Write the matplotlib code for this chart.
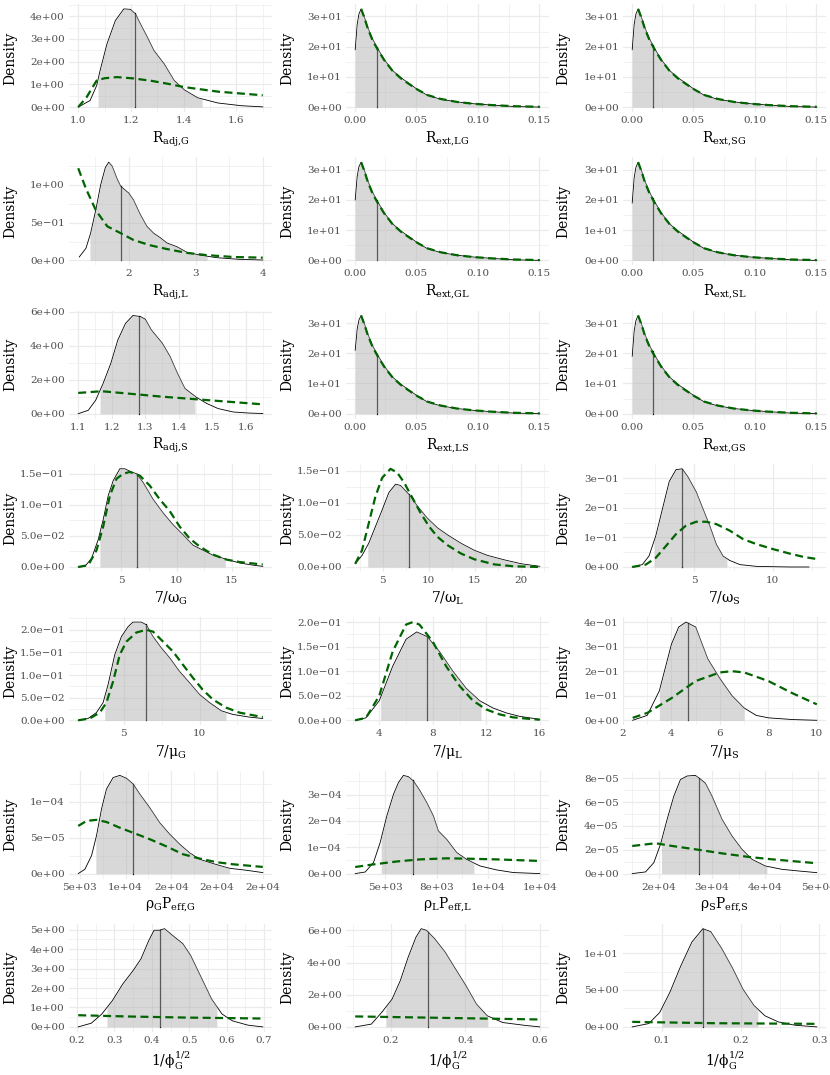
import numpy as np
import matplotlib
matplotlib.use("Agg")
import matplotlib.pyplot as plt
from matplotlib.ticker import AutoMinorLocator

plt.rcParams["font.family"] = ["DejaVu Serif"]
plt.rcParams["mathtext.fontset"] = "dejavuserif"

# =============================
# Data
# =============================

# R_adj,G
radj_g_x = [1.00, 1.045, 1.07, 1.083, 1.109, 1.141, 1.173, 1.198, 1.217, 1.236, 1.262, 1.287, 1.326, 1.364, 1.402, 1.453, 1.53, 1.619, 1.70]
radj_g_y = [0.0, 0.29, 0.95, 1.61, 2.78, 3.81, 4.32, 4.30, 4.10, 3.66, 3.08, 2.49, 1.90, 1.17, 0.76, 0.41, 0.18, 0.06, 0.01]
radj_g_ci = [1.075, 1.47]
radj_g_med = 1.215
radj_g_px = [1.0, 1.032, 1.07, 1.10, 1.147, 1.211, 1.28, 1.338, 1.402, 1.53, 1.70]
radj_g_py = [0.0, 0.44, 1.17, 1.27, 1.32, 1.26, 1.15, 1.03, 0.88, 0.68, 0.52]

# R_ext (all six look alike)
rext_x = [0.0005, 0.0021, 0.0035, 0.0053, 0.0080, 0.0107, 0.0147, 0.0188, 0.0241, 0.0308, 0.0376, 0.0443, 0.0510, 0.0590, 0.0698, 0.0832, 0.0966, 0.1100, 0.1288, 0.1503]
rext_lg_y = [19.0, 27.4, 30.8, 32.5, 29.7, 26.3, 22.4, 19.3, 15.7, 12.1, 9.7, 7.8, 5.8, 3.9, 2.6, 1.7, 1.1, 0.7, 0.2, 0.0]
rext_sg_y = [19.0, 27.4, 30.8, 32.5, 29.7, 26.3, 22.4, 19.3, 15.7, 12.1, 9.7, 7.8, 5.8, 3.9, 2.6, 1.7, 1.1, 0.7, 0.2, 0.0]
rext_gl_y = [20.0, 27.8, 31.0, 32.5, 29.7, 26.3, 22.4, 19.3, 15.7, 12.1, 9.7, 7.8, 5.8, 3.9, 2.6, 1.7, 1.1, 0.7, 0.2, 0.0]
rext_sl_y = [19.0, 27.4, 30.8, 32.5, 29.7, 26.3, 22.4, 19.3, 15.7, 12.1, 9.7, 7.8, 5.8, 3.9, 2.6, 1.7, 1.1, 0.7, 0.2, 0.0]
rext_ls_y = [21.0, 28.0, 31.0, 32.5, 29.7, 26.3, 22.4, 19.3, 15.7, 12.1, 9.7, 7.8, 5.8, 3.9, 2.6, 1.7, 1.1, 0.7, 0.2, 0.0]
rext_gs_y = [19.0, 27.4, 30.8, 32.5, 29.7, 26.3, 22.4, 19.3, 15.7, 12.1, 9.7, 7.8, 5.8, 3.9, 2.6, 1.7, 1.1, 0.7, 0.2, 0.0]
rext_ci = [0.0005, 0.1503]
rext_med = [0.018, 0.017, 0.018, 0.017, 0.018, 0.017]  # LG, SG, GL, SL, LS, GS
rext_px = [0.0053, 0.0080, 0.0107, 0.0147, 0.0188, 0.0241, 0.0308, 0.0376, 0.0443, 0.0510, 0.0590, 0.0698, 0.0832, 0.0966, 0.1100, 0.1288, 0.1503]
rext_py = [32.5, 29.5, 26.0, 22.0, 19.0, 15.5, 12.0, 9.5, 7.6, 5.8, 4.0, 2.7, 1.7, 1.1, 0.7, 0.3, 0.1]

# R_adj,L
radj_l_x = [1.26, 1.36, 1.43, 1.51, 1.58, 1.65, 1.70, 1.75, 1.83, 1.88, 2.0, 2.07, 2.17, 2.27, 2.37, 2.47, 2.57, 2.72, 2.86, 3.06, 3.31, 3.65, 4.0]
radj_l_y = [0.045, 0.16, 0.36, 0.68, 1.0, 1.23, 1.30, 1.25, 1.07, 0.98, 0.89, 0.80, 0.61, 0.45, 0.36, 0.30, 0.23, 0.18, 0.11, 0.07, 0.036, 0.014, 0.005]
radj_l_ci = [1.42, 3.17]
radj_l_med = 1.88
radj_l_px = [1.245, 1.36, 1.51, 1.68, 1.88, 2.07, 2.32, 2.57, 2.86, 3.16, 3.56, 4.0]
radj_l_py = [1.22, 0.95, 0.66, 0.45, 0.36, 0.27, 0.20, 0.15, 0.10, 0.07, 0.045, 0.036]

# R_adj,S
radj_s_x = [1.10, 1.13, 1.152, 1.174, 1.197, 1.218, 1.241, 1.263, 1.285, 1.30, 1.318, 1.351, 1.374, 1.396, 1.418, 1.451, 1.484, 1.517, 1.562, 1.606, 1.65]
radj_s_y = [0.0, 0.2, 0.79, 1.77, 2.95, 4.33, 5.31, 5.77, 5.71, 5.55, 4.92, 4.13, 3.35, 2.36, 1.48, 0.98, 0.59, 0.30, 0.10, 0.04, 0.01]
radj_s_ci = [1.165, 1.448]
radj_s_med = 1.28
radj_s_px = [1.10, 1.17, 1.25, 1.35, 1.45, 1.55, 1.65]
radj_s_py = [1.22, 1.32, 1.18, 1.00, 0.85, 0.70, 0.55]

# 7/omega_G
om_g_x = [1.08, 1.69, 2.29, 2.89, 3.34, 3.80, 4.25, 4.85, 5.30, 5.90, 6.36, 6.96, 7.86, 8.77, 9.67, 10.57, 11.48, 12.38, 13.28, 14.49, 15.69, 16.9, 17.8]
om_g_y = [0.0, 0.001, 0.014, 0.044, 0.076, 0.115, 0.139, 0.158, 0.158, 0.153, 0.150, 0.136, 0.109, 0.087, 0.068, 0.052, 0.035, 0.027, 0.019, 0.0125, 0.0065, 0.003, 0.001]
om_g_ci = [3.04, 14.4]
om_g_med = 6.36
om_g_px = [1.08, 1.99, 2.74, 3.34, 3.95, 4.55, 5.15, 5.75, 6.66, 7.56, 8.46, 9.37, 10.27, 11.17, 12.08, 13.28, 14.49, 15.69, 17.8]
om_g_py = [0.0, 0.003, 0.027, 0.065, 0.115, 0.142, 0.150, 0.153, 0.147, 0.131, 0.109, 0.090, 0.065, 0.046, 0.033, 0.020, 0.012, 0.008, 0.004]

# 7/omega_L
om_l_x = [2.0, 2.74, 3.47, 4.2, 4.93, 5.66, 6.39, 6.93, 7.85, 8.76, 9.85, 10.95, 12.04, 13.5, 14.96, 16.4, 18.25, 20.07, 22.08]
om_l_y = [0.005, 0.018, 0.037, 0.063, 0.089, 0.116, 0.129, 0.127, 0.113, 0.095, 0.076, 0.061, 0.050, 0.037, 0.026, 0.018, 0.011, 0.005, 0.001]
om_l_ci = [3.36, 22.08]
om_l_med = 7.85
om_l_px = [2.0, 2.74, 3.47, 4.2, 4.93, 5.84, 6.57, 7.3, 8.21, 9.12, 10.04, 10.95, 12.04, 13.5, 14.96, 17.15, 19.3, 22.08]
om_l_py = [0.005, 0.026, 0.068, 0.11, 0.139, 0.153, 0.147, 0.132, 0.108, 0.084, 0.063, 0.047, 0.034, 0.021, 0.012, 0.004, 0.001, 0.0]

# 7/omega_S
om_s_x = [1.03, 1.67, 2.1, 2.53, 2.96, 3.39, 3.82, 4.21, 4.57, 5.11, 5.54, 5.97, 6.39, 6.82, 7.25, 7.9, 8.97, 11.1, 12.3]
om_s_y = [0.0, 0.008, 0.037, 0.105, 0.197, 0.289, 0.329, 0.332, 0.306, 0.254, 0.197, 0.14, 0.077, 0.037, 0.022, 0.008, 0.002, 0.0, 0.0]
om_s_ci = [2.42, 7.07]
om_s_med = 4.19
om_s_px = [1.03, 1.89, 2.53, 3.18, 3.82, 4.46, 5.11, 5.75, 6.39, 7.25, 8.11, 8.97, 10.04, 11.1, 11.96, 12.8]
om_s_py = [0.0, 0.008, 0.031, 0.071, 0.111, 0.140, 0.153, 0.153, 0.145, 0.123, 0.094, 0.077, 0.060, 0.045, 0.034, 0.027]

# 7/mu_G
mu_g_x = [2.0, 2.65, 3.2, 3.64, 3.97, 4.41, 4.85, 5.29, 5.61, 6.16, 6.49, 6.93, 7.48, 8.03, 8.68, 9.34, 10.0, 10.66, 11.43, 12.19, 13.29, 14.17]
mu_g_y = [0.0, 0.004, 0.017, 0.039, 0.079, 0.145, 0.185, 0.207, 0.217, 0.217, 0.211, 0.185, 0.160, 0.138, 0.108, 0.083, 0.057, 0.039, 0.021, 0.013, 0.007, 0.004]
mu_g_ci = [3.75, 11.75]
mu_g_med = 6.45
mu_g_px = [2.0, 2.76, 3.42, 3.86, 4.3, 4.74, 5.18, 5.83, 6.49, 6.93, 7.59, 8.25, 8.9, 9.56, 10.2, 10.88, 11.75, 12.63, 14.17]
mu_g_py = [0.0, 0.004, 0.017, 0.039, 0.086, 0.145, 0.174, 0.194, 0.200, 0.196, 0.174, 0.152, 0.123, 0.094, 0.068, 0.046, 0.028, 0.017, 0.007]

# 7/mu_L
mu_l_x = [2.2, 3.0, 4.0, 5.0, 6.0, 6.8, 7.6, 8.5, 9.5, 10.5, 11.5, 12.5, 13.5, 14.5, 16.0]
mu_l_y = [0.0, 0.005, 0.04, 0.11, 0.165, 0.18, 0.17, 0.14, 0.10, 0.065, 0.04, 0.025, 0.015, 0.008, 0.002]
mu_l_ci = [4.1, 11.6]
mu_l_med = 7.6
mu_l_px = [2.2, 3.0, 4.0, 5.0, 6.0, 6.5, 7.0, 8.0, 9.0, 10.0, 11.0, 12.0, 13.0, 14.0, 16.0]
mu_l_py = [0.0, 0.005, 0.05, 0.14, 0.195, 0.20, 0.195, 0.16, 0.11, 0.07, 0.04, 0.022, 0.012, 0.006, 0.001]

# 7/mu_S
mu_s_x = [2.4, 3.0, 3.5, 4.0, 4.3, 4.6, 5.0, 5.5, 6.0, 6.5, 7.0, 7.5, 8.0, 9.0, 10.0]
mu_s_y = [0.0, 0.02, 0.12, 0.31, 0.38, 0.40, 0.38, 0.25, 0.17, 0.10, 0.05, 0.02, 0.01, 0.003, 0.0]
mu_s_ci = [3.5, 7.0]
mu_s_med = 4.7
mu_s_px = [2.4, 3.0, 4.0, 5.0, 6.0, 6.5, 7.0, 8.0, 9.0, 10.0]
mu_s_py = [0.01, 0.03, 0.09, 0.16, 0.195, 0.20, 0.195, 0.16, 0.11, 0.065]

# rho_G P_eff,G
rp_g_x = [4818, 5545, 6273, 6818, 7364, 7909, 8636, 9364, 10091, 10818, 11545, 12636, 13727, 14818, 15909, 17000, 18091, 19545, 21364, 23182, 25000]
rp_g_y = [0.0, 0.6e-5, 2.5e-5, 5.3e-5, 9.0e-5, 11.8e-5, 13.4e-5, 13.7e-5, 13.3e-5, 12.5e-5, 11.1e-5, 9.2e-5, 7.1e-5, 5.5e-5, 4.1e-5, 2.9e-5, 2.0e-5, 1.4e-5, 0.74e-5, 0.47e-5, 0.14e-5]
rp_g_ci = [6745, 21364]
rp_g_med = 10818
rp_g_px = [4818, 5727, 6818, 7909, 9364, 10818, 12636, 14455, 16273, 18091, 19909, 21727, 25000]
rp_g_py = [6.65e-5, 7.35e-5, 7.5e-5, 7.2e-5, 6.4e-5, 5.7e-5, 4.8e-5, 3.8e-5, 2.7e-5, 2.1e-5, 1.6e-5, 1.3e-5, 0.93e-5]

# rho_L P_eff,L
rp_l_x = [3548, 4032, 4435, 4758, 5081, 5403, 5645, 5887, 6129, 6371, 6694, 7016, 7339, 7581, 7984, 8468, 8952, 9597, 10403, 11210, 12500]
rp_l_y = [0.0, 0.6e-5, 4.2e-5, 11.8e-5, 21.9e-5, 30.1e-5, 34.6e-5, 37.3e-5, 36.8e-5, 35.2e-5, 31.4e-5, 27.0e-5, 21.9e-5, 16.2e-5, 13.0e-5, 8.0e-5, 5.4e-5, 2.9e-5, 1.4e-5, 0.4e-5, 0.0]
rp_l_ci = [4806, 9306]
rp_l_med = 6339
rp_l_px = [3548, 4435, 5565, 6694, 7984, 8790, 10403, 12500]
rp_l_py = [2.5e-5, 3.5e-5, 4.6e-5, 5.4e-5, 5.8e-5, 5.7e-5, 5.4e-5, 4.8e-5]

# rho_S P_eff,S
rp_s_x = [15000, 17500, 19063, 20313, 21563, 22813, 24063, 25313, 26875, 27625, 28750, 30000, 31875, 33750, 35625, 37500, 40000, 43125, 46250, 49688]
rp_s_y = [0.0, 0.14e-5, 0.92e-5, 2.46e-5, 4.56e-5, 6.5e-5, 7.9e-5, 8.2e-5, 8.25e-5, 8.0e-5, 7.6e-5, 6.5e-5, 4.56e-5, 3.16e-5, 2.04e-5, 1.2e-5, 0.64e-5, 0.36e-5, 0.22e-5, 0.08e-5]
rp_s_ci = [20500, 40313]
rp_s_med = 27625
rp_s_px = [15000, 19375, 22500, 26875, 31875, 36875, 41250, 49688]
rp_s_py = [2.32e-5, 2.55e-5, 2.32e-5, 2.04e-5, 1.7e-5, 1.4e-5, 1.2e-5, 0.87e-5]

# 1/phi^(1/2), three panels
ph_1_x = [0.203, 0.238, 0.266, 0.294, 0.322, 0.350, 0.371, 0.392, 0.406, 0.420, 0.434, 0.455, 0.483, 0.504, 0.532, 0.560, 0.588, 0.616, 0.657, 0.697]
ph_1_y = [0.0, 0.19, 0.66, 1.34, 2.2, 2.9, 3.5, 4.45, 4.97, 4.97, 5.05, 4.71, 4.28, 3.67, 2.55, 1.43, 0.66, 0.31, 0.09, 0.0]
ph_1_ci = [0.28, 0.574]
ph_1_med = 0.423
ph_1_px = [0.203, 0.35, 0.49, 0.697]
ph_1_py = [0.60, 0.53, 0.48, 0.43]

ph_2_x = [0.105, 0.148, 0.176, 0.204, 0.226, 0.247, 0.268, 0.282, 0.296, 0.318, 0.346, 0.374, 0.402, 0.430, 0.459, 0.501, 0.558, 0.60]
ph_2_y = [0.0, 0.17, 0.9, 1.73, 2.88, 4.33, 5.58, 6.1, 6.0, 5.48, 4.65, 3.6, 2.56, 1.42, 0.69, 0.27, 0.1, 0.0]
ph_2_ci = [0.187, 0.461]
ph_2_med = 0.30
ph_2_px = [0.105, 0.289, 0.60]
ph_2_py = [0.65, 0.58, 0.46]

ph_3_x = [0.062, 0.083, 0.097, 0.11, 0.124, 0.138, 0.152, 0.162, 0.176, 0.19, 0.203, 0.217, 0.231, 0.248, 0.269, 0.297]
ph_3_y = [0.0, 0.45, 1.95, 4.7, 8.3, 11.5, 13.3, 12.9, 10.6, 7.9, 5.1, 2.9, 1.5, 0.68, 0.23, 0.0]
ph_3_ci = [0.10, 0.222]
ph_3_med = 0.152
ph_3_px = [0.062, 0.165, 0.297]
ph_3_py = [0.68, 0.50, 0.41]

# Tick positions / labels as printed
rext_xt = [0.0, 0.05, 0.10, 0.15]
rext_xtl = ["0.00", "0.05", "0.10", "0.15"]
rext_yt = [0, 10, 20, 30]
rext_ytl = ["0e+00", "1e+01", "2e+01", "3e+01"]

# =============================
# Panel table
# =============================
panels = [
    (radj_g_x, radj_g_y, radj_g_ci, radj_g_med, radj_g_px, radj_g_py,
     [1.0, 1.2, 1.4, 1.6], ["1.0", "1.2", "1.4", "1.6"],
     [0, 1, 2, 3, 4], ["0e+00", "1e+00", "2e+00", "3e+00", "4e+00"], r"$\mathrm{R_{adj{,}G}}$"),
    (rext_x, rext_lg_y, rext_ci, rext_med[0], rext_px, rext_py,
     rext_xt, rext_xtl, rext_yt, rext_ytl, r"$\mathrm{R_{ext{,}LG}}$"),
    (rext_x, rext_sg_y, rext_ci, rext_med[1], rext_px, rext_py,
     rext_xt, rext_xtl, rext_yt, rext_ytl, r"$\mathrm{R_{ext{,}SG}}$"),
    (radj_l_x, radj_l_y, radj_l_ci, radj_l_med, radj_l_px, radj_l_py,
     [2, 3, 4], ["2", "3", "4"],
     [0, 0.5, 1.0], ["0e+00", "5e\u221201", "1e+00"], r"$\mathrm{R_{adj{,}L}}$"),
    (rext_x, rext_gl_y, rext_ci, rext_med[2], rext_px, rext_py,
     rext_xt, rext_xtl, rext_yt, rext_ytl, r"$\mathrm{R_{ext{,}GL}}$"),
    (rext_x, rext_sl_y, rext_ci, rext_med[3], rext_px, rext_py,
     rext_xt, rext_xtl, rext_yt, rext_ytl, r"$\mathrm{R_{ext{,}SL}}$"),
    (radj_s_x, radj_s_y, radj_s_ci, radj_s_med, radj_s_px, radj_s_py,
     [1.1, 1.2, 1.3, 1.4, 1.5, 1.6], ["1.1", "1.2", "1.3", "1.4", "1.5", "1.6"],
     [0, 2, 4, 6], ["0e+00", "2e+00", "4e+00", "6e+00"], r"$\mathrm{R_{adj{,}S}}$"),
    (rext_x, rext_ls_y, rext_ci, rext_med[4], rext_px, rext_py,
     rext_xt, rext_xtl, rext_yt, rext_ytl, r"$\mathrm{R_{ext{,}LS}}$"),
    (rext_x, rext_gs_y, rext_ci, rext_med[5], rext_px, rext_py,
     rext_xt, rext_xtl, rext_yt, rext_ytl, r"$\mathrm{R_{ext{,}GS}}$"),
    (om_g_x, om_g_y, om_g_ci, om_g_med, om_g_px, om_g_py,
     [5, 10, 15], ["5", "10", "15"],
     [0, 0.05, 0.10, 0.15], ["0.0e+00", "5.0e\u221202", "1.0e\u221201", "1.5e\u221201"], r"$7/\mathrm{\omega_{G}}$"),
    (om_l_x, om_l_y, om_l_ci, om_l_med, om_l_px, om_l_py,
     [5, 10, 15, 20], ["5", "10", "15", "20"],
     [0, 0.05, 0.10, 0.15], ["0.0e+00", "5.0e\u221202", "1.0e\u221201", "1.5e\u221201"], r"$7/\mathrm{\omega_{L}}$"),
    (om_s_x, om_s_y, om_s_ci, om_s_med, om_s_px, om_s_py,
     [5, 10], ["5", "10"],
     [0, 0.1, 0.2, 0.3], ["0e+00", "1e\u221201", "2e\u221201", "3e\u221201"], r"$7/\mathrm{\omega_{S}}$"),
    (mu_g_x, mu_g_y, mu_g_ci, mu_g_med, mu_g_px, mu_g_py,
     [5, 10], ["5", "10"],
     [0, 0.05, 0.10, 0.15, 0.20], ["0.0e+00", "5.0e\u221202", "1.0e\u221201", "1.5e\u221201", "2.0e\u221201"], r"$7/\mathrm{\mu_{G}}$"),
    (mu_l_x, mu_l_y, mu_l_ci, mu_l_med, mu_l_px, mu_l_py,
     [4, 8, 12, 16], ["4", "8", "12", "16"],
     [0, 0.05, 0.10, 0.15, 0.20], ["0.0e+00", "5.0e\u221202", "1.0e\u221201", "1.5e\u221201", "2.0e\u221201"], r"$7/\mathrm{\mu_{L}}$"),
    (mu_s_x, mu_s_y, mu_s_ci, mu_s_med, mu_s_px, mu_s_py,
     [2, 4, 6, 8, 10], ["2", "4", "6", "8", "10"],
     [0, 0.1, 0.2, 0.3, 0.4], ["0e+00", "1e\u221201", "2e\u221201", "3e\u221201", "4e\u221201"], r"$7/\mathrm{\mu_{S}}$"),
    (rp_g_x, rp_g_y, rp_g_ci, rp_g_med, rp_g_px, rp_g_py,
     [5000, 10000, 15000, 20000, 25000], ["5e+03", "1e+04", "2e+04", "2e+04", "2e+04"],
     [0, 5e-5, 1e-4], ["0e+00", "5e\u221205", "1e\u221204"], r"$\mathrm{\rho_{G}P_{eff{,}G}}$"),
    (rp_l_x, rp_l_y, rp_l_ci, rp_l_med, rp_l_px, rp_l_py,
     [5000, 7500, 10000, 12500], ["5e+03", "8e+03", "1e+04", "1e+04"],
     [0, 1e-4, 2e-4, 3e-4], ["0e+00", "1e\u221204", "2e\u221204", "3e\u221204"], r"$\mathrm{\rho_{L}P_{eff{,}L}}$"),
    (rp_s_x, rp_s_y, rp_s_ci, rp_s_med, rp_s_px, rp_s_py,
     [20000, 30000, 40000, 50000], ["2e+04", "3e+04", "4e+04", "5e+04"],
     [0, 2e-5, 4e-5, 6e-5, 8e-5], ["0e+00", "2e\u221205", "4e\u221205", "6e\u221205", "8e\u221205"], r"$\mathrm{\rho_{S}P_{eff{,}S}}$"),
    (ph_1_x, ph_1_y, ph_1_ci, ph_1_med, ph_1_px, ph_1_py,
     [0.2, 0.3, 0.4, 0.5, 0.6, 0.7], ["0.2", "0.3", "0.4", "0.5", "0.6", "0.7"],
     [0, 1, 2, 3, 4, 5], ["0e+00", "1e+00", "2e+00", "3e+00", "4e+00", "5e+00"], r"$1/\mathrm{\phi_{G}^{1/2}}$"),
    (ph_2_x, ph_2_y, ph_2_ci, ph_2_med, ph_2_px, ph_2_py,
     [0.2, 0.4, 0.6], ["0.2", "0.4", "0.6"],
     [0, 2, 4, 6], ["0e+00", "2e+00", "4e+00", "6e+00"], r"$1/\mathrm{\phi_{G}^{1/2}}$"),
    (ph_3_x, ph_3_y, ph_3_ci, ph_3_med, ph_3_px, ph_3_py,
     [0.1, 0.2, 0.3], ["0.1", "0.2", "0.3"],
     [0, 5, 10], ["0e+00", "5e+00", "1e+01"], r"$1/\mathrm{\phi_{G}^{1/2}}$"),
]

# =============================
# Layout (pixels)
# =============================
W, H = 830, 1075
col_left = [69, 346, 623]
cell_left = [0, 277, 553]
pw, ph = 203, 108
row_top0, row_step = 4, 153.3

fig = plt.figure(figsize=(W / 100, H / 100), dpi=100)

for i, (x, y, ci, med, prx, pry, xt, xtl, yt, ytl, xlab) in enumerate(panels):
    r, c = divmod(i, 3)
    top = row_top0 + r * row_step
    ax = fig.add_axes([col_left[c] / W, 1 - (top + ph) / H, pw / W, ph / H])

    x = np.asarray(x, float)
    y = np.asarray(y, float)

    # posterior density
    ax.plot(x, y, color="black", lw=0.6, zorder=2)
    # median
    ax.plot([med, med], [0, np.interp(med, x, y)], color="black", lw=0.9, zorder=2)
    # credible interval shading
    inside = (x > ci[0]) & (x < ci[1])
    fx = np.concatenate([[ci[0]], x[inside], [ci[1]]])
    ax.fill_between(fx, 0, np.interp(fx, x, y), color="#b3b3b3", alpha=0.5, lw=0, zorder=3)
    # prior
    ax.plot(prx, pry, color="#006400", lw=1.6, ls=(0, (3.6, 2.0)), zorder=4)

    ax.margins(x=0.05, y=0.05)
    ax.set_xticks(xt)
    ax.set_xticklabels(xtl)
    ax.set_yticks(yt)
    ax.set_yticklabels(ytl)
    ax.xaxis.set_minor_locator(AutoMinorLocator(2))
    ax.yaxis.set_minor_locator(AutoMinorLocator(2))
    ax.grid(which="major", color="#EBEBEB", lw=0.9)
    ax.grid(which="minor", color="#EBEBEB", lw=0.45)
    ax.set_axisbelow(True)
    for s in ax.spines.values():
        s.set_visible(False)
    ax.tick_params(which="both", length=0, pad=3, labelsize=7.5, labelcolor="#4D4D4D")

    ax.set_xlabel(xlab, fontsize=10, labelpad=3)
    ax.set_ylabel("Density", fontsize=10)
    ax.yaxis.set_label_coords((cell_left[c] + 17 - col_left[c]) / pw, 0.5)

fig.savefig("out.png", dpi=100)
